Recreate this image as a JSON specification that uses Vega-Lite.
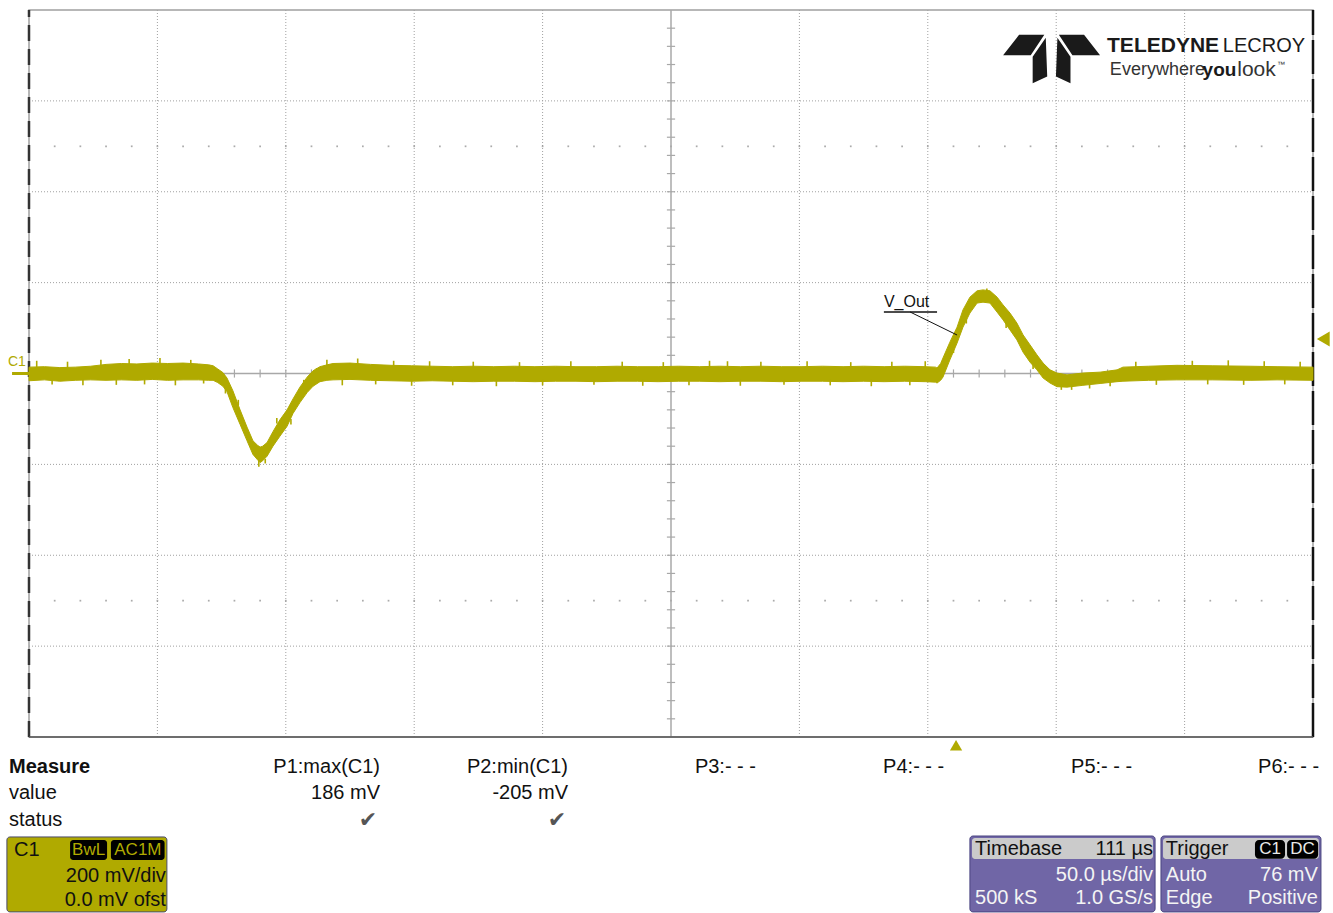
{
  "$schema": "https://vega.github.io/schema/vega-lite/v6.json",
  "width": 1284,
  "height": 727,
  "autosize": {"type": "none"},
  "padding": {"left": 29, "top": 10, "right": 20, "bottom": 176},
  "background": "white",
  "config": {"view": {"stroke": "#a0a0a0", "strokeWidth": 1.5}, "font": "Liberation Sans"},
  "datasets": {
    "one": [{}],
    "gridX": [{"t": -311}, {"t": -261}, {"t": -211}, {"t": -161}, {"t": -61}, {"t": -11}, {"t": 39}, {"t": 89}],
    "gridY": [{"v": -600}, {"v": -400}, {"v": -200}, {"v": 200}, {"v": 400}, {"v": 600}],
    "trace": [
      {"t": -361, "hi": 14, "lo": -16}, {"t": -355, "hi": 15, "lo": -14}, {"t": -349, "hi": 13, "lo": -17},
      {"t": -343, "hi": 14, "lo": -15}, {"t": -337, "hi": 16, "lo": -14}, {"t": -331, "hi": 20, "lo": -15},
      {"t": -325, "hi": 22, "lo": -14}, {"t": -319, "hi": 21, "lo": -15}, {"t": -313, "hi": 23, "lo": -13},
      {"t": -307, "hi": 22, "lo": -15}, {"t": -301, "hi": 23, "lo": -14}, {"t": -295, "hi": 21, "lo": -14},
      {"t": -291, "hi": 19, "lo": -15}, {"t": -289.3, "hi": 17, "lo": -15}, {"t": -287.5, "hi": 10, "lo": -20},
      {"t": -285.5, "hi": 2, "lo": -28}, {"t": -283.9, "hi": -10, "lo": -40}, {"t": -281.6, "hi": -38, "lo": -75},
      {"t": -278.8, "hi": -80, "lo": -112}, {"t": -276.1, "hi": -118, "lo": -148}, {"t": -273.8, "hi": -148, "lo": -178},
      {"t": -272, "hi": -158, "lo": -190}, {"t": -271, "hi": -162, "lo": -196}, {"t": -270, "hi": -160, "lo": -192},
      {"t": -268.3, "hi": -152, "lo": -182}, {"t": -266, "hi": -128, "lo": -160}, {"t": -263.3, "hi": -102, "lo": -138},
      {"t": -260.5, "hi": -80, "lo": -116}, {"t": -258.2, "hi": -56, "lo": -88}, {"t": -255.5, "hi": -30, "lo": -64},
      {"t": -252.7, "hi": -8, "lo": -42}, {"t": -250.4, "hi": 6, "lo": -28}, {"t": -247.7, "hi": 15, "lo": -18},
      {"t": -245, "hi": 19, "lo": -15}, {"t": -242.6, "hi": 22, "lo": -14}, {"t": -236, "hi": 23, "lo": -13},
      {"t": -228, "hi": 20, "lo": -15}, {"t": -220, "hi": 18, "lo": -16}, {"t": -212, "hi": 17, "lo": -17},
      {"t": -204, "hi": 16, "lo": -16}, {"t": -196, "hi": 15, "lo": -17}, {"t": -188, "hi": 16, "lo": -18},
      {"t": -180, "hi": 15, "lo": -17}, {"t": -172, "hi": 16, "lo": -17}, {"t": -164, "hi": 15, "lo": -18},
      {"t": -156, "hi": 16, "lo": -17}, {"t": -148, "hi": 15, "lo": -17}, {"t": -140, "hi": 15, "lo": -18},
      {"t": -132, "hi": 16, "lo": -17}, {"t": -124, "hi": 15, "lo": -17}, {"t": -116, "hi": 15, "lo": -18},
      {"t": -108, "hi": 16, "lo": -17}, {"t": -100, "hi": 15, "lo": -17}, {"t": -92, "hi": 16, "lo": -18},
      {"t": -84, "hi": 15, "lo": -17}, {"t": -76, "hi": 16, "lo": -17}, {"t": -68, "hi": 15, "lo": -18},
      {"t": -60, "hi": 15, "lo": -17}, {"t": -52, "hi": 16, "lo": -17}, {"t": -44, "hi": 15, "lo": -18},
      {"t": -36, "hi": 16, "lo": -17}, {"t": -28, "hi": 15, "lo": -18}, {"t": -20, "hi": 16, "lo": -17},
      {"t": -12, "hi": 15, "lo": -18}, {"t": -8, "hi": 14, "lo": -19}, {"t": -7.4, "hi": 12, "lo": -21},
      {"t": -6, "hi": 22, "lo": -15}, {"t": -5.1, "hi": 34, "lo": -8}, {"t": -2.4, "hi": 69, "lo": 30},
      {"t": 0.4, "hi": 102, "lo": 67}, {"t": 2.7, "hi": 140, "lo": 102}, {"t": 5.4, "hi": 168, "lo": 133},
      {"t": 8.2, "hi": 182, "lo": 155}, {"t": 10.5, "hi": 184, "lo": 157}, {"t": 13.2, "hi": 182, "lo": 155},
      {"t": 16, "hi": 168, "lo": 135}, {"t": 18.3, "hi": 151, "lo": 118}, {"t": 21, "hi": 133, "lo": 96},
      {"t": 23.7, "hi": 111, "lo": 74}, {"t": 26.1, "hi": 85, "lo": 47}, {"t": 28.8, "hi": 63, "lo": 25},
      {"t": 31.5, "hi": 41, "lo": 8}, {"t": 33.9, "hi": 23, "lo": -10}, {"t": 36.6, "hi": 8, "lo": -21},
      {"t": 39.3, "hi": 1, "lo": -29}, {"t": 43.2, "hi": -3, "lo": -30}, {"t": 49.4, "hi": 1, "lo": -26},
      {"t": 56.1, "hi": 3, "lo": -22}, {"t": 62.7, "hi": 8, "lo": -18}, {"t": 65, "hi": 14, "lo": -17},
      {"t": 75, "hi": 16, "lo": -15}, {"t": 86, "hi": 18, "lo": -14}, {"t": 100, "hi": 17, "lo": -14},
      {"t": 114.5, "hi": 16, "lo": -15}, {"t": 125, "hi": 15, "lo": -14}, {"t": 139, "hi": 14, "lo": -15}
    ],
    "spikes": [
      {"t": -358, "a": 10, "b": 28}, {"t": -352, "a": -12, "b": -24}, {"t": -346, "a": 10, "b": 26},
      {"t": -340, "a": -12, "b": -26}, {"t": -333, "a": 12, "b": 30}, {"t": -327, "a": -12, "b": -25},
      {"t": -322, "a": 18, "b": 32}, {"t": -316, "a": -11, "b": -24}, {"t": -310, "a": 18, "b": 34},
      {"t": -304, "a": -12, "b": -26}, {"t": -298, "a": 18, "b": 30}, {"t": -293, "a": -12, "b": -22},
      {"t": -284.5, "a": -30, "b": -44}, {"t": -279.5, "a": -70, "b": -58}, {"t": -275, "a": -150, "b": -162},
      {"t": -271.5, "a": -190, "b": -205}, {"t": -269, "a": -188, "b": -198}, {"t": -264.5, "a": -110, "b": -98},
      {"t": -259, "a": -100, "b": -112}, {"t": -254, "a": -25, "b": -14}, {"t": -249, "a": 0, "b": 12},
      {"t": -245, "a": 18, "b": 30}, {"t": -239, "a": -12, "b": -26}, {"t": -233, "a": 18, "b": 33},
      {"t": -226, "a": -12, "b": -24}, {"t": -219, "a": 15, "b": 28}, {"t": -212, "a": -14, "b": -27},
      {"t": -205, "a": 14, "b": 27}, {"t": -196, "a": -14, "b": -26}, {"t": -188, "a": 14, "b": 26},
      {"t": -179, "a": -14, "b": -28}, {"t": -170, "a": 14, "b": 25}, {"t": -161, "a": -14, "b": -26},
      {"t": -150, "a": 14, "b": 27}, {"t": -141, "a": -14, "b": -25}, {"t": -130, "a": 14, "b": 26},
      {"t": -122, "a": -14, "b": -27}, {"t": -114, "a": 14, "b": 25}, {"t": -104, "a": -14, "b": -26},
      {"t": -96, "a": 14, "b": 28}, {"t": -89, "a": 14, "b": 27}, {"t": -84, "a": -14, "b": -27},
      {"t": -76, "a": 14, "b": 26}, {"t": -67, "a": -14, "b": -25}, {"t": -58, "a": 14, "b": 27},
      {"t": -49, "a": -14, "b": -26}, {"t": -41, "a": 14, "b": 25}, {"t": -33, "a": -14, "b": -28},
      {"t": -25, "a": 14, "b": 26}, {"t": -18, "a": -14, "b": -26}, {"t": -12, "a": 14, "b": 27},
      {"t": -1, "a": 45, "b": 58}, {"t": 4, "a": 122, "b": 110}, {"t": 12, "a": 180, "b": 187},
      {"t": 19.5, "a": 112, "b": 100}, {"t": 25, "a": 80, "b": 92}, {"t": 30, "a": 22, "b": 10},
      {"t": 41, "a": -25, "b": -36}, {"t": 45, "a": -25, "b": -36}, {"t": 52, "a": -22, "b": -33},
      {"t": 60, "a": -15, "b": -28}, {"t": 70, "a": 14, "b": 26}, {"t": 78, "a": -13, "b": -25},
      {"t": 92, "a": 16, "b": 28}, {"t": 98, "a": -12, "b": -24}, {"t": 106, "a": 16, "b": 29},
      {"t": 112, "a": -12, "b": -25}, {"t": 120, "a": 14, "b": 27}, {"t": 128, "a": -12, "b": -24},
      {"t": 134, "a": 14, "b": 26}
    ],
    "xticks": [
      {"t": -351}, {"t": -341}, {"t": -331}, {"t": -321}, {"t": -311}, {"t": -301}, {"t": -291},
      {"t": -281}, {"t": -271}, {"t": -261}, {"t": -251}, {"t": -241}, {"t": -231}, {"t": -221},
      {"t": -211}, {"t": -201}, {"t": -191}, {"t": -181}, {"t": -171}, {"t": -161}, {"t": -151},
      {"t": -141}, {"t": -131}, {"t": -121}, {"t": -111}, {"t": -101}, {"t": -91}, {"t": -81},
      {"t": -71}, {"t": -61}, {"t": -51}, {"t": -41}, {"t": -31}, {"t": -21}, {"t": -11},
      {"t": -1}, {"t": 9}, {"t": 19}, {"t": 29}, {"t": 39}, {"t": 49}, {"t": 59}, {"t": 69},
      {"t": 79}, {"t": 89}, {"t": 99}, {"t": 109}, {"t": 119}, {"t": 129}
    ],
    "yticks": [
      {"v": -760}, {"v": -720}, {"v": -680}, {"v": -640}, {"v": -600}, {"v": -560}, {"v": -520},
      {"v": -480}, {"v": -440}, {"v": -400}, {"v": -360}, {"v": -320}, {"v": -280}, {"v": -240},
      {"v": -200}, {"v": -160}, {"v": -120}, {"v": -80}, {"v": -40}, {"v": 0}, {"v": 40},
      {"v": 80}, {"v": 120}, {"v": 160}, {"v": 200}, {"v": 240}, {"v": 280}, {"v": 320},
      {"v": 360}, {"v": 400}, {"v": 440}, {"v": 480}, {"v": 520}, {"v": 560}, {"v": 600},
      {"v": 640}, {"v": 680}, {"v": 720}, {"v": 760}
    ],
    "textLeft": [
      {"t": -368.8, "v": -923.3, "txt": "value"},
      {"t": -368.8, "v": -982.7, "txt": "status"},
      {"t": -101.7, "v": -866, "txt": "P3:- - -"},
      {"t": -28.4, "v": -866, "txt": "P4:- - -"},
      {"t": 44.8, "v": -866, "txt": "P5:- - -"},
      {"t": 117.6, "v": -866, "txt": "P6:- - -"}
    ],
    "textRight": [
      {"t": -224.3, "v": -866, "txt": "P1:max(C1)"},
      {"t": -224.3, "v": -923.3, "txt": "186 mV"},
      {"t": -151.1, "v": -866, "txt": "P2:min(C1)"},
      {"t": -151.1, "v": -923.3, "txt": "-205 mV"}
    ],
    "checks": [
      {"t": -229.0, "v": -982.7, "txt": "✔"},
      {"t": -155.4, "v": -982.7, "txt": "✔"}
    ],
    "c1Right": [
      {"t": -307.7, "v": -1105.9, "txt": "200 mV/div"},
      {"t": -307.7, "v": -1158.7, "txt": "0.0 mV ofst"}
    ],
    "tagsY": [
      {"t1": -345.0, "t2": -330.6, "tc": -337.8, "txt": "BwL"},
      {"t1": -329.1, "t2": -308.2, "tc": -318.6, "txt": "AC1M"}
    ],
    "tagsW": [
      {"t1": 116.4, "t2": 128.1, "tc": 122.25, "txt": "C1"},
      {"t1": 128.9, "t2": 141.0, "tc": 134.95, "txt": "DC"}
    ],
    "headLeft": [
      {"t": 7.4, "v": -1046.5, "txt": "Timebase"},
      {"t": 81.7, "v": -1046.5, "txt": "Trigger"}
    ],
    "headRight": [
      {"t": 76.7, "v": -1046.5, "txt": "111 µs"}
    ],
    "purpleLeft": [
      {"t": 7.4, "v": -1154.3, "txt": "500 kS"},
      {"t": 81.7, "v": -1103.7, "txt": "Auto"},
      {"t": 81.7, "v": -1154.3, "txt": "Edge"}
    ],
    "purpleRight": [
      {"t": 76.7, "v": -1103.7, "txt": "50.0 µs/div"},
      {"t": 76.7, "v": -1154.3, "txt": "1.0 GS/s"},
      {"t": 140.9, "v": -1103.7, "txt": "76 mV"},
      {"t": 140.9, "v": -1154.3, "txt": "Positive"}
    ],
    "purpleBoxes": [
      {"t1": 5.4, "t2": 77.5, "h1": 6.2, "h2": 76.7},
      {"t1": 79.8, "t2": 142.1, "h1": 80.6, "h2": 141.3}
    ]
  },
  "layer": [
    {
      "data": {"name": "gridX"},
      "mark": {"type": "rule", "color": "#a0a0a0", "strokeWidth": 1, "strokeDash": [1, 2]},
      "encoding": {
        "x": {"field": "t", "type": "quantitative", "scale": {"domain": [-361, 139], "nice": false, "zero": false}, "axis": null},
        "y": {"datum": -800, "type": "quantitative", "scale": {"domain": [-800, 800], "nice": false, "zero": false}, "axis": null},
        "y2": {"datum": 800}
      }
    },
    {
      "data": {"name": "gridY"},
      "mark": {"type": "rule", "color": "#a0a0a0", "strokeWidth": 1, "strokeDash": [1, 2]},
      "encoding": {"y": {"field": "v", "type": "quantitative", "axis": null}, "x": {"datum": -361, "type": "quantitative", "axis": null}, "x2": {"datum": 139}}
    },
    {
      "data": {"name": "xticks"},
      "mark": {"type": "point", "shape": "square", "filled": true, "size": 3, "color": "#888888"},
      "encoding": {"x": {"field": "t", "type": "quantitative", "axis": null}, "y": {"datum": 500, "type": "quantitative", "axis": null}}
    },
    {
      "data": {"name": "xticks"},
      "mark": {"type": "point", "shape": "square", "filled": true, "size": 3, "color": "#888888"},
      "encoding": {"x": {"field": "t", "type": "quantitative", "axis": null}, "y": {"datum": -500, "type": "quantitative", "axis": null}}
    },
    {
      "data": {"name": "one"},
      "mark": {"type": "rule", "color": "#a8a8a8", "strokeWidth": 1.5},
      "encoding": {"x": {"datum": -111, "type": "quantitative", "axis": null}, "y": {"datum": -800, "type": "quantitative", "axis": null}, "y2": {"datum": 800}}
    },
    {
      "data": {"name": "one"},
      "mark": {"type": "rule", "color": "#a8a8a8", "strokeWidth": 1.5},
      "encoding": {"y": {"datum": 0, "type": "quantitative", "axis": null}, "x": {"datum": -361, "type": "quantitative", "axis": null}, "x2": {"datum": 139}}
    },
    {
      "data": {"name": "xticks"},
      "mark": {"type": "rule", "color": "#a8a8a8", "strokeWidth": 1.2},
      "encoding": {"x": {"field": "t", "type": "quantitative", "axis": null}, "y": {"datum": -9, "type": "quantitative", "axis": null}, "y2": {"datum": 9}}
    },
    {
      "data": {"name": "yticks"},
      "mark": {"type": "rule", "color": "#a8a8a8", "strokeWidth": 1.2},
      "encoding": {"y": {"field": "v", "type": "quantitative", "axis": null}, "x": {"datum": -112.6, "type": "quantitative", "axis": null}, "x2": {"datum": -109.4}}
    },
    {
      "data": {"name": "one"},
      "mark": {"type": "rule", "color": "#333333", "strokeWidth": 2.5, "strokeDash": [16, 8]},
      "encoding": {"x": {"datum": -361, "type": "quantitative", "axis": null}, "y": {"datum": -800, "type": "quantitative", "axis": null}, "y2": {"datum": 800}}
    },
    {
      "data": {"name": "one"},
      "mark": {"type": "rule", "color": "#111111", "strokeWidth": 2.5, "strokeDash": [34, 5]},
      "encoding": {"x": {"datum": 139, "type": "quantitative", "axis": null}, "y": {"datum": -800, "type": "quantitative", "axis": null}, "y2": {"datum": 800}}
    },
    {
      "data": {"name": "one"},
      "mark": {"type": "rule", "color": "#555555", "strokeWidth": 1.5},
      "encoding": {"y": {"datum": -800, "type": "quantitative", "axis": null}, "x": {"datum": -361, "type": "quantitative", "axis": null}, "x2": {"datum": 139}}
    },
    {
      "data": {"name": "trace"},
      "mark": {"type": "area", "orient": "vertical", "color": "#b0aa00", "interpolate": "linear", "stroke": "#b0aa00", "strokeWidth": 1},
      "encoding": {"x": {"field": "t", "type": "quantitative", "axis": null}, "y": {"field": "hi", "type": "quantitative", "axis": null}, "y2": {"field": "lo"}}
    },
    {
      "data": {"name": "spikes"},
      "mark": {"type": "rule", "color": "#b0aa00", "strokeWidth": 1.6},
      "encoding": {"x": {"field": "t", "type": "quantitative", "axis": null}, "y": {"field": "a", "type": "quantitative", "axis": null}, "y2": {"field": "b"}}
    },
    {
      "data": {"name": "one"},
      "mark": {"type": "rule", "color": "#b0aa00", "strokeWidth": 3},
      "encoding": {"y": {"datum": 0, "type": "quantitative", "axis": null}, "x": {"datum": -367.6, "type": "quantitative", "axis": null}, "x2": {"datum": -361}}
    },
    {
      "data": {"name": "one"},
      "mark": {"type": "text", "text": "C1", "color": "#b0aa00", "fontSize": 14, "align": "center", "baseline": "middle"},
      "encoding": {"x": {"datum": -365.7, "type": "quantitative", "axis": null}, "y": {"datum": 25, "type": "quantitative", "axis": null}}
    },
    {
      "data": {"name": "one"},
      "mark": {"type": "point", "shape": "triangle-left", "filled": true, "size": 220, "color": "#b0aa00", "opacity": 1},
      "encoding": {"x": {"datum": 143.0, "type": "quantitative", "axis": null}, "y": {"datum": 76, "type": "quantitative", "axis": null}}
    },
    {
      "data": {"name": "one"},
      "mark": {"type": "point", "shape": "triangle-up", "filled": true, "size": 150, "color": "#b0aa00", "opacity": 1},
      "encoding": {"x": {"datum": 0, "type": "quantitative", "axis": null}, "y": {"datum": -818, "type": "quantitative", "axis": null}}
    },
    {
      "data": {"name": "one"},
      "mark": {"type": "text", "text": "V_Out", "color": "#111111", "fontSize": 16, "align": "left", "baseline": "middle"},
      "encoding": {"x": {"datum": -28.1, "type": "quantitative", "axis": null}, "y": {"datum": 157, "type": "quantitative", "axis": null}}
    },
    {
      "data": {"name": "one"},
      "mark": {"type": "rule", "color": "#111111", "strokeWidth": 1.5},
      "encoding": {"x": {"datum": -28.1, "type": "quantitative", "axis": null}, "x2": {"datum": -7.4}, "y": {"datum": 135.4, "type": "quantitative", "axis": null}}
    },
    {
      "data": {"name": "one"},
      "mark": {"type": "rule", "color": "#111111", "strokeWidth": 1},
      "encoding": {"x": {"datum": -17.9, "type": "quantitative", "axis": null}, "x2": {"datum": 0.4}, "y": {"datum": 135.4, "type": "quantitative", "axis": null}, "y2": {"datum": 84.7}}
    },
    {
      "data": {"name": "one"},
      "mark": {"type": "point", "shape": "M-1,-0.08L-0.67,-0.5L-0.15,-0.5L-0.43,-0.08Z M-0.39,-0.05L-0.12,-0.44L-0.09,0.36L-0.39,0.5Z M0.39,-0.05L0.12,-0.44L0.09,0.36L0.39,0.5Z M1,-0.08L0.67,-0.5L0.15,-0.5L0.43,-0.08Z", "filled": true, "size": 9400, "color": "#1a1a1a", "opacity": 1},
      "encoding": {"x": {"datum": 37.2, "type": "quantitative", "axis": null}, "y": {"datum": 692, "type": "quantitative", "axis": null}}
    },
    {
      "data": {"name": "one"},
      "mark": {"type": "text", "text": "TELEDYNE", "font": "Liberation Sans", "fontWeight": "bold", "fontSize": 21, "color": "#1a1a1a", "align": "left", "baseline": "middle"},
      "encoding": {"x": {"datum": 58.8, "type": "quantitative", "axis": null}, "y": {"datum": 720, "type": "quantitative", "axis": null}}
    },
    {
      "data": {"name": "one"},
      "mark": {"type": "text", "text": "LECROY", "font": "Liberation Sans", "fontSize": 20, "color": "#1a1a1a", "align": "right", "baseline": "middle"},
      "encoding": {"x": {"datum": 135.9, "type": "quantitative", "axis": null}, "y": {"datum": 720, "type": "quantitative", "axis": null}}
    },
    {
      "data": {"name": "one"},
      "mark": {"type": "text", "text": "Everywhere", "font": "Liberation Sans", "fontSize": 18, "color": "#333333", "align": "left", "baseline": "middle"},
      "encoding": {"x": {"datum": 59.9, "type": "quantitative", "axis": null}, "y": {"datum": 668, "type": "quantitative", "axis": null}}
    },
    {
      "data": {"name": "one"},
      "mark": {"type": "text", "text": "you", "font": "Liberation Sans", "fontWeight": "bold", "fontSize": 19, "color": "#1a1a1a", "align": "left", "baseline": "middle"},
      "encoding": {"x": {"datum": 96.0, "type": "quantitative", "axis": null}, "y": {"datum": 668, "type": "quantitative", "axis": null}}
    },
    {
      "data": {"name": "one"},
      "mark": {"type": "text", "text": "look", "font": "Liberation Sans", "fontSize": 21, "color": "#333333", "align": "left", "baseline": "middle"},
      "encoding": {"x": {"datum": 109.5, "type": "quantitative", "axis": null}, "y": {"datum": 668, "type": "quantitative", "axis": null}}
    },
    {
      "data": {"name": "one"},
      "mark": {"type": "text", "text": "™", "fontSize": 8, "color": "#333333", "align": "left", "baseline": "middle"},
      "encoding": {"x": {"datum": 125.0, "type": "quantitative", "axis": null}, "y": {"datum": 680, "type": "quantitative", "axis": null}}
    },
    {
      "data": {"name": "one"},
      "mark": {"type": "text", "text": "Measure", "fontWeight": "bold", "fontSize": 20, "color": "#111111", "align": "left", "baseline": "middle"},
      "encoding": {"x": {"datum": -368.8, "type": "quantitative", "axis": null}, "y": {"datum": -866, "type": "quantitative", "axis": null}}
    },
    {
      "data": {"name": "textLeft"},
      "mark": {"type": "text", "fontSize": 20, "color": "#111111", "align": "left", "baseline": "middle"},
      "encoding": {"x": {"field": "t", "type": "quantitative", "axis": null}, "y": {"field": "v", "type": "quantitative", "axis": null}, "text": {"field": "txt"}}
    },
    {
      "data": {"name": "textRight"},
      "mark": {"type": "text", "fontSize": 20, "color": "#111111", "align": "right", "baseline": "middle"},
      "encoding": {"x": {"field": "t", "type": "quantitative", "axis": null}, "y": {"field": "v", "type": "quantitative", "axis": null}, "text": {"field": "txt"}}
    },
    {
      "data": {"name": "checks"},
      "mark": {"type": "text", "font": "DejaVu Sans", "fontSize": 22, "color": "#555555", "align": "center", "baseline": "middle"},
      "encoding": {"x": {"field": "t", "type": "quantitative", "axis": null}, "y": {"field": "v", "type": "quantitative", "axis": null}, "text": {"field": "txt"}}
    },
    {
      "data": {"name": "one"},
      "mark": {"type": "rect", "color": "#b0aa00", "stroke": "#4a4a6a", "strokeWidth": 1, "cornerRadius": 3},
      "encoding": {"x": {"datum": -369.6, "type": "quantitative", "axis": null}, "x2": {"datum": -307.3}, "y": {"datum": -1020, "type": "quantitative", "axis": null}, "y2": {"datum": -1185}}
    },
    {
      "data": {"name": "one"},
      "mark": {"type": "text", "text": "C1", "fontSize": 20, "color": "#111111", "align": "left", "baseline": "middle"},
      "encoding": {"x": {"datum": -366.8, "type": "quantitative", "axis": null}, "y": {"datum": -1048.7, "type": "quantitative", "axis": null}}
    },
    {
      "data": {"name": "tagsY"},
      "mark": {"type": "rect", "color": "#000000", "cornerRadius": 3},
      "encoding": {"x": {"field": "t1", "type": "quantitative", "axis": null}, "x2": {"field": "t2"}, "y": {"datum": -1026.7, "type": "quantitative", "axis": null}, "y2": {"datum": -1070.7}}
    },
    {
      "data": {"name": "tagsY"},
      "mark": {"type": "text", "fontSize": 17, "color": "#b0aa00", "align": "center", "baseline": "middle"},
      "encoding": {"x": {"field": "tc", "type": "quantitative", "axis": null}, "y": {"datum": -1048.7, "type": "quantitative", "axis": null}, "text": {"field": "txt"}}
    },
    {
      "data": {"name": "c1Right"},
      "mark": {"type": "text", "fontSize": 20, "color": "#111111", "align": "right", "baseline": "middle"},
      "encoding": {"x": {"field": "t", "type": "quantitative", "axis": null}, "y": {"field": "v", "type": "quantitative", "axis": null}, "text": {"field": "txt"}}
    },
    {
      "data": {"name": "purpleBoxes"},
      "mark": {"type": "rect", "color": "#7066a6", "stroke": "#4a4480", "strokeWidth": 1, "cornerRadius": 3},
      "encoding": {"x": {"field": "t1", "type": "quantitative", "axis": null}, "x2": {"field": "t2"}, "y": {"datum": -1017.9, "type": "quantitative", "axis": null}, "y2": {"datum": -1185}}
    },
    {
      "data": {"name": "purpleBoxes"},
      "mark": {"type": "rect", "color": "#cbcbcb", "cornerRadius": 3},
      "encoding": {"x": {"field": "h1", "type": "quantitative", "axis": null}, "x2": {"field": "h2"}, "y": {"datum": -1022.3, "type": "quantitative", "axis": null}, "y2": {"datum": -1068.5}}
    },
    {
      "data": {"name": "headLeft"},
      "mark": {"type": "text", "fontSize": 20, "color": "#111111", "align": "left", "baseline": "middle"},
      "encoding": {"x": {"field": "t", "type": "quantitative", "axis": null}, "y": {"field": "v", "type": "quantitative", "axis": null}, "text": {"field": "txt"}}
    },
    {
      "data": {"name": "headRight"},
      "mark": {"type": "text", "fontSize": 20, "color": "#111111", "align": "right", "baseline": "middle"},
      "encoding": {"x": {"field": "t", "type": "quantitative", "axis": null}, "y": {"field": "v", "type": "quantitative", "axis": null}, "text": {"field": "txt"}}
    },
    {
      "data": {"name": "tagsW"},
      "mark": {"type": "rect", "color": "#000000", "cornerRadius": 4},
      "encoding": {"x": {"field": "t1", "type": "quantitative", "axis": null}, "x2": {"field": "t2"}, "y": {"datum": -1026.7, "type": "quantitative", "axis": null}, "y2": {"datum": -1068}}
    },
    {
      "data": {"name": "tagsW"},
      "mark": {"type": "text", "fontSize": 17, "color": "#e8e8e8", "align": "center", "baseline": "middle"},
      "encoding": {"x": {"field": "tc", "type": "quantitative", "axis": null}, "y": {"datum": -1047.5, "type": "quantitative", "axis": null}, "text": {"field": "txt"}}
    },
    {
      "data": {"name": "purpleLeft"},
      "mark": {"type": "text", "fontSize": 20, "color": "#f4f4f4", "align": "left", "baseline": "middle"},
      "encoding": {"x": {"field": "t", "type": "quantitative", "axis": null}, "y": {"field": "v", "type": "quantitative", "axis": null}, "text": {"field": "txt"}}
    },
    {
      "data": {"name": "purpleRight"},
      "mark": {"type": "text", "fontSize": 20, "color": "#f4f4f4", "align": "right", "baseline": "middle"},
      "encoding": {"x": {"field": "t", "type": "quantitative", "axis": null}, "y": {"field": "v", "type": "quantitative", "axis": null}, "text": {"field": "txt"}}
    }
  ]
}
